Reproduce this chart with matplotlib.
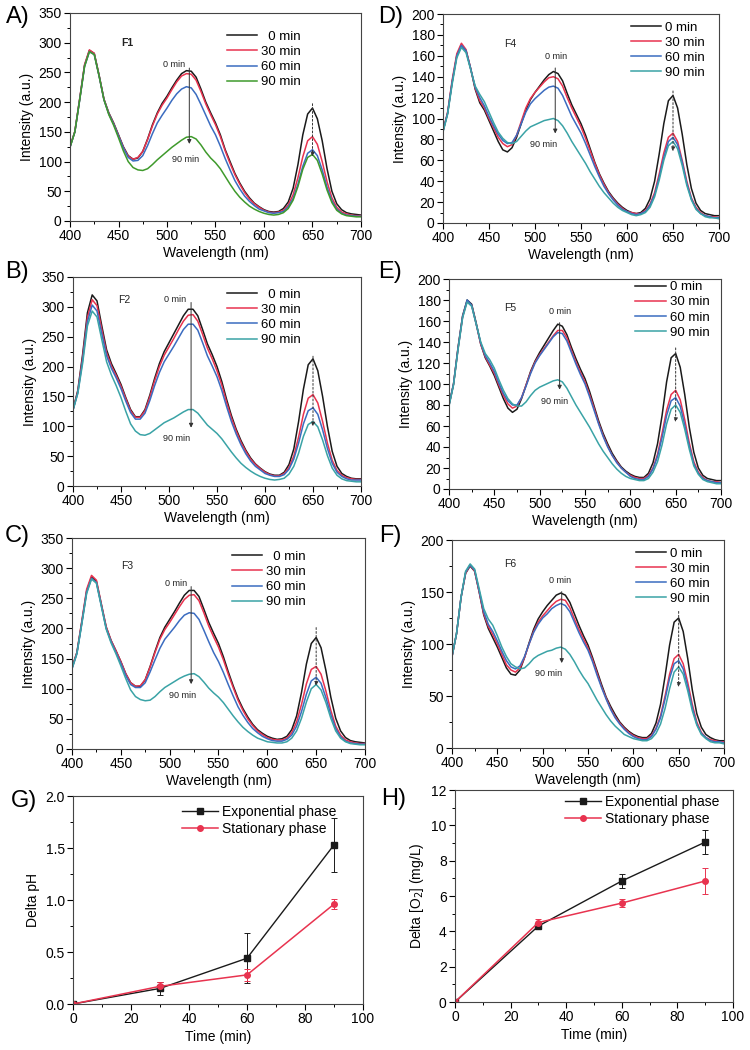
import numpy as np
import matplotlib.pyplot as plt
from matplotlib.ticker import MultipleLocator

plt.rcParams['font.family'] = ['Liberation Sans', 'DejaVu Sans']

# wavelength grid of the spectra (nm)
wl = np.arange(400, 701, 5)

# F1 spectra (panel A)
F1_0 = [125, 150, 205, 262, 287, 282, 245, 205, 182, 165, 145, 125, 110, 104, 106, 117, 138, 162, 182, 198, 210, 224, 237, 248, 253, 252, 242, 222, 200, 182, 165, 145, 120, 100, 80, 64, 50, 39, 30, 24, 19, 16, 15, 16, 21, 32, 55, 95, 145, 180, 190, 172, 135, 88, 50, 29, 19, 14, 12, 11, 10]
F1_30 = [125, 151, 206, 263, 288, 282, 245, 205, 181, 164, 144, 124, 109, 104, 107, 117, 137, 160, 180, 195, 207, 221, 234, 244, 248, 247, 237, 218, 197, 179, 162, 142, 118, 97, 78, 62, 48, 37, 29, 23, 18, 15, 14, 15, 18, 27, 44, 73, 108, 135, 142, 129, 100, 66, 39, 23, 15, 12, 10, 9, 9]
F1_60 = [124, 150, 204, 260, 285, 280, 244, 204, 180, 163, 143, 123, 107, 101, 102, 110, 127, 147, 165, 178, 190, 203, 214, 222, 226, 224, 213, 196, 178, 160, 145, 126, 105, 86, 68, 54, 42, 33, 26, 20, 17, 14, 13, 14, 16, 24, 38, 62, 92, 114, 120, 110, 86, 57, 34, 20, 13, 10, 9, 8, 8]
F1_90 = [124, 150, 204, 260, 285, 280, 244, 204, 179, 161, 140, 118, 100, 90, 86, 85, 88, 95, 103, 110, 117, 124, 130, 136, 141, 142, 138, 128, 116, 106, 98, 88, 75, 62, 50, 40, 32, 25, 20, 16, 13, 11, 10, 11, 14, 21, 35, 58, 87, 107, 112, 102, 79, 52, 31, 18, 12, 9, 8, 7, 7]

# F2 spectra (panel B)
F2_0 = [128, 160, 220, 290, 320, 310, 268, 228, 205, 188, 170, 148, 128, 116, 116, 128, 152, 180, 205, 225, 240, 255, 270, 285, 296, 296, 285, 262, 238, 220, 200, 175, 145, 118, 95, 76, 60, 47, 37, 30, 24, 20, 18, 18, 23, 36, 62, 108, 162, 203, 213, 193, 150, 100, 58, 33, 21, 16, 13, 12, 12]
F2_30 = [128, 158, 215, 282, 312, 302, 262, 223, 201, 185, 167, 146, 126, 115, 115, 126, 149, 176, 200, 219, 233, 247, 262, 276, 286, 287, 276, 254, 231, 213, 193, 169, 140, 114, 92, 73, 58, 45, 36, 29, 23, 19, 17, 17, 21, 31, 50, 82, 120, 147, 153, 139, 108, 72, 43, 26, 18, 14, 12, 11, 11]
F2_60 = [127, 156, 210, 275, 303, 293, 255, 218, 197, 181, 163, 142, 123, 112, 112, 122, 143, 168, 190, 208, 221, 234, 248, 262, 271, 271, 261, 240, 218, 201, 183, 160, 133, 108, 87, 69, 54, 42, 33, 27, 21, 18, 16, 16, 19, 28, 45, 72, 104, 126, 131, 120, 94, 63, 38, 23, 16, 12, 10, 10, 10]
F2_90 = [127, 155, 205, 268, 293, 283, 245, 208, 186, 168, 148, 125, 104, 92, 86, 85, 88, 94, 100, 106, 110, 114, 119, 124, 128, 128, 122, 112, 102, 95, 88, 79, 68, 57, 47, 38, 31, 25, 20, 16, 13, 11, 10, 11, 13, 20, 33, 55, 83, 103, 108, 99, 77, 51, 30, 18, 12, 9, 8, 7, 7]

# F3 spectra (panel C)
F3_0 = [135, 160, 210, 262, 285, 278, 240, 202, 180, 163, 145, 125, 110, 104, 104, 115, 137, 162, 185, 202, 215, 228, 242, 255, 263, 263, 253, 232, 210, 192, 175, 153, 128, 105, 84, 67, 53, 41, 32, 26, 21, 18, 16, 17, 21, 32, 55, 94, 141, 175, 185, 168, 130, 86, 51, 30, 19, 14, 12, 11, 10]
F3_30 = [135, 160, 212, 265, 288, 280, 241, 203, 180, 163, 145, 125, 110, 104, 105, 115, 136, 160, 182, 198, 210, 223, 236, 248, 255, 256, 246, 226, 204, 186, 169, 148, 124, 102, 81, 64, 50, 39, 30, 24, 19, 16, 15, 15, 18, 27, 45, 74, 108, 132, 137, 124, 96, 64, 38, 23, 15, 12, 10, 9, 9]
F3_60 = [133, 158, 208, 260, 283, 276, 238, 200, 178, 160, 142, 122, 107, 102, 102, 110, 128, 148, 167, 182, 192, 202, 213, 222, 226, 225, 215, 197, 178, 160, 145, 127, 107, 88, 70, 56, 44, 34, 27, 21, 17, 14, 13, 13, 16, 23, 38, 62, 91, 113, 119, 109, 85, 57, 34, 20, 13, 10, 9, 8, 8]
F3_90 = [133, 158, 207, 258, 282, 275, 237, 199, 176, 158, 138, 117, 98, 87, 82, 80, 81, 87, 95, 102, 107, 112, 117, 121, 124, 125, 120, 111, 101, 93, 86, 77, 66, 55, 45, 36, 29, 23, 18, 15, 12, 11, 10, 10, 12, 18, 30, 51, 78, 100, 107, 98, 77, 51, 30, 18, 12, 9, 8, 7, 7]

# F4 spectra (panel D)
F4_0 = [88, 105, 135, 160, 170, 165, 148, 128, 115, 108, 98, 88, 78, 70, 68, 72, 82, 95, 108, 118, 125, 131, 137, 142, 145, 143, 136, 124, 113, 104, 95, 84, 71, 58, 47, 38, 30, 24, 19, 15, 12, 10, 9, 10, 14, 23, 40, 66, 95, 117, 122, 110, 85, 56, 33, 19, 12, 9, 8, 7, 7]
F4_30 = [88, 106, 137, 162, 172, 166, 148, 129, 117, 110, 100, 91, 82, 76, 73, 75, 84, 97, 110, 119, 125, 130, 135, 139, 140, 138, 131, 120, 110, 101, 92, 81, 69, 57, 46, 37, 29, 23, 18, 14, 11, 10, 9, 9, 12, 18, 29, 47, 67, 82, 86, 78, 60, 40, 24, 15, 10, 7, 6, 6, 5]
F4_60 = [88, 105, 135, 160, 170, 165, 148, 130, 120, 112, 102, 93, 85, 79, 76, 77, 84, 95, 106, 114, 119, 123, 127, 130, 131, 129, 122, 112, 102, 94, 86, 76, 65, 54, 44, 35, 28, 22, 17, 13, 11, 9, 8, 9, 11, 17, 27, 44, 63, 78, 82, 75, 58, 38, 23, 14, 9, 7, 6, 5, 5]
F4_90 = [87, 104, 133, 158, 168, 163, 147, 131, 123, 116, 106, 96, 87, 81, 77, 76, 78, 83, 88, 92, 94, 96, 98, 99, 100, 98, 93, 86, 78, 71, 64, 57, 49, 42, 35, 29, 24, 19, 15, 12, 10, 8, 7, 8, 10, 15, 25, 41, 60, 74, 78, 71, 55, 36, 22, 13, 9, 6, 5, 5, 4]

# F5 spectra (panel E)
F5_0 = [80, 100, 135, 165, 180, 176, 158, 138, 125, 117, 108, 97, 86, 77, 73, 76, 86, 99, 112, 122, 130, 137, 144, 151, 157, 155, 147, 135, 124, 114, 105, 93, 79, 65, 53, 43, 34, 27, 21, 17, 14, 12, 11, 11, 15, 25, 43, 70, 102, 125, 129, 116, 90, 59, 35, 20, 13, 10, 9, 8, 8]
F5_30 = [80, 100, 134, 164, 179, 175, 157, 138, 126, 118, 110, 99, 89, 81, 77, 79, 87, 99, 111, 121, 128, 134, 140, 146, 151, 151, 144, 132, 121, 111, 102, 90, 77, 63, 51, 41, 32, 26, 20, 16, 13, 11, 10, 10, 13, 20, 33, 53, 75, 90, 94, 85, 66, 44, 26, 16, 11, 8, 7, 7, 6]
F5_60 = [80, 100, 134, 164, 180, 175, 157, 139, 127, 120, 112, 101, 91, 84, 80, 80, 87, 98, 110, 120, 127, 133, 139, 145, 149, 148, 141, 130, 119, 109, 100, 88, 75, 62, 50, 40, 32, 25, 20, 16, 12, 10, 9, 9, 12, 19, 31, 49, 70, 84, 87, 79, 61, 41, 24, 15, 10, 8, 7, 6, 6]
F5_90 = [79, 99, 133, 163, 178, 174, 157, 140, 129, 123, 115, 104, 94, 86, 81, 79, 79, 83, 89, 94, 97, 99, 101, 103, 104, 102, 96, 88, 80, 73, 66, 59, 51, 43, 36, 30, 24, 19, 15, 12, 10, 9, 8, 8, 10, 16, 26, 42, 62, 76, 80, 73, 57, 38, 22, 14, 9, 7, 6, 5, 5]

# F6 spectra (panel F)
F6_0 = [88, 110, 145, 168, 175, 170, 150, 128, 115, 106, 97, 87, 77, 71, 70, 75, 87, 101, 114, 124, 131, 137, 142, 147, 149, 147, 140, 129, 118, 108, 99, 87, 74, 61, 49, 40, 32, 25, 20, 16, 13, 11, 10, 10, 14, 24, 42, 69, 99, 121, 125, 112, 86, 56, 33, 20, 13, 10, 8, 7, 7]
F6_30 = [88, 110, 145, 168, 176, 170, 150, 129, 117, 109, 100, 90, 80, 75, 73, 77, 87, 100, 112, 121, 127, 132, 137, 141, 143, 142, 135, 124, 114, 105, 96, 85, 72, 59, 48, 38, 30, 24, 19, 15, 12, 10, 9, 9, 12, 19, 31, 50, 71, 86, 90, 81, 63, 42, 25, 15, 10, 8, 7, 6, 6]
F6_60 = [88, 110, 145, 169, 176, 171, 151, 131, 119, 112, 103, 93, 84, 78, 76, 79, 88, 100, 111, 119, 125, 129, 134, 137, 139, 137, 131, 121, 111, 102, 94, 83, 70, 58, 47, 37, 29, 23, 18, 14, 11, 9, 8, 8, 11, 18, 29, 47, 67, 81, 84, 76, 59, 39, 23, 14, 10, 7, 6, 6, 5]
F6_90 = [88, 110, 145, 170, 177, 172, 153, 134, 124, 118, 108, 97, 88, 81, 78, 76, 77, 81, 86, 89, 91, 93, 94, 96, 97, 95, 90, 83, 75, 68, 62, 54, 46, 39, 32, 26, 21, 17, 13, 11, 9, 8, 7, 7, 9, 14, 23, 38, 57, 73, 78, 71, 55, 36, 22, 13, 9, 6, 5, 5, 4]

# left column pads "0 min" so it lines up right; right column does not
labels_left = ['  0 min', '30 min', '60 min', '90 min']
labels_right = ['0 min', '30 min', '60 min', '90 min']

# panels G and H
t = [0, 30, 60, 90]
ph_exp = [0.0, 0.15, 0.44, 1.53]
ph_exp_err = [0.0, 0.06, 0.24, 0.26]
ph_sta = [0.0, 0.17, 0.28, 0.96]
ph_sta_err = [0.0, 0.04, 0.06, 0.05]
o2_exp = [0.0, 4.3, 6.85, 9.05]
o2_exp_err = [0.0, 0.1, 0.4, 0.7]
o2_sta = [0.0, 4.5, 5.6, 6.85]
o2_sta_err = [0.0, 0.2, 0.25, 0.75]

BLACK = '#1a1a1a'
RED = '#e8334f'
BLUE = '#3b6cc0'
TEAL = '#3aa3a6'
GREEN = '#3f9a2c'

fig = plt.figure(figsize=(7.5, 10.5), dpi=100)


def px_axes(x0, x1, y0, y1):
    return fig.add_axes([x0 / 750, 1 - y1 / 1050, (x1 - x0) / 750, (y1 - y0) / 1050])


def style(ax, xmaj, xmin, ymaj, ymin):
    ax.xaxis.set_major_locator(MultipleLocator(xmaj))
    ax.xaxis.set_minor_locator(MultipleLocator(xmin))
    ax.yaxis.set_major_locator(MultipleLocator(ymaj))
    ax.yaxis.set_minor_locator(MultipleLocator(ymin))
    ax.tick_params(which='both', direction='out', top=False, right=False, labelsize=10, pad=2)
    ax.tick_params(which='major', length=4, width=0.8)
    ax.tick_params(which='minor', length=2, width=0.7)
    for s in ax.spines.values():
        s.set_linewidth(0.8)
        s.set_color('#444444')


panels = [
    dict(rect=(70, 361, 13, 221), curves=[F1_0, F1_30, F1_60, F1_90], last=GREEN, ymax=350, ymaj=50,
         name='F1', bold=True, name_xy=(459, 300), leg=(0.54, 0.915), labels=labels_left,
         t0=(507, 263), arr=(523, 262, 125), t90=(519, 104), dot=(650, 202, 104), letter='A)', lxy=(6, 6)),
    dict(rect=(73, 361, 277, 486), curves=[F2_0, F2_30, F2_60, F2_90], last=TEAL, ymax=350, ymaj=50,
         name='F2', bold=False, name_xy=(453, 312), leg=(0.535, 0.945), labels=labels_left,
         t0=(506, 313), arr=(523, 312, 93), t90=(508, 80), dot=(650, 222, 95), letter='B)', lxy=(5, 261)),
    dict(rect=(72, 365, 538, 749), curves=[F3_0, F3_30, F3_60, F3_90], last=TEAL, ymax=350, ymaj=50,
         name='F3', bold=False, name_xy=(456, 303), leg=(0.545, 0.94), labels=labels_left,
         t0=(507, 274), arr=(522, 274, 103), t90=(513, 89), dot=(650, 206, 100), letter='C)', lxy=(5, 525)),
    dict(rect=(443, 719, 14, 223), curves=[F4_0, F4_30, F4_60, F4_90], last=TEAL, ymax=200, ymaj=20,
         name='F4', bold=False, name_xy=(473, 171), leg=(0.68, 0.965), labels=labels_right,
         t0=(523, 159), arr=(522, 151, 83), t90=(509, 75), dot=(650, 129, 66), letter='D)', lxy=(378, 6)),
    dict(rect=(449, 721, 279, 489), curves=[F5_0, F5_30, F5_60, F5_90], last=TEAL, ymax=200, ymaj=20,
         name='F5', bold=False, name_xy=(468, 172), leg=(0.685, 0.99), labels=labels_right,
         t0=(522, 169), arr=(522, 161, 92), t90=(516, 83), dot=(650, 137, 61), letter='E)', lxy=(378, 261)),
    dict(rect=(452, 724, 540, 748), curves=[F6_0, F6_30, F6_60, F6_90], last=TEAL, ymax=200, ymaj=50,
         name='F6', bold=False, name_xy=(464, 177), leg=(0.675, 0.965), labels=labels_right,
         t0=(519, 161), arr=(521, 153, 79), t90=(506, 72), dot=(650, 134, 56), letter='F)', lxy=(379, 525)),
]

for p in panels:
    ax = px_axes(*p['rect'])
    colors = [BLACK, RED, BLUE, p['last']]
    for y, c, lab in zip(p['curves'], colors, p['labels']):
        ax.plot(wl, y, color=c, lw=1.1, label=lab)
    ax.set_xlim(400, 700)
    ax.set_ylim(0, p['ymax'])
    style(ax, 50, 25, p['ymaj'], p['ymaj'] / 2)
    ax.set_xlabel('Wavelength (nm)', fontsize=10, labelpad=2)
    ax.set_ylabel('Intensity (a.u.)', fontsize=10, labelpad=3)
    ax.text(*p['name_xy'], p['name'], fontsize=7.5, fontweight='bold' if p['bold'] else 'normal',
            ha='center', va='center', color='#222222')
    ax.text(*p['t0'], '0 min', fontsize=6.5, ha='center', va='center', color='#222222')
    ax.text(*p['t90'], '90 min', fontsize=6.5, ha='center', va='center', color='#222222')
    a_x, a_top, a_bot = p['arr']
    ax.annotate('', xy=(a_x, a_bot), xytext=(a_x, a_top),
                arrowprops=dict(arrowstyle='-|>', color='#333333', lw=0.7, mutation_scale=6))
    d_x, d_top, d_bot = p['dot']
    ax.annotate('', xy=(d_x, d_bot), xytext=(d_x, d_top),
                arrowprops=dict(arrowstyle='-|>', color='#333333', lw=0.7, ls=(0, (2, 2)), mutation_scale=6))
    ax.legend(loc='upper left', bbox_to_anchor=p['leg'], frameon=False, fontsize=9.5,
              handlelength=2.3, handletextpad=0.3, labelspacing=0.22, borderpad=0, borderaxespad=0)
    fig.text(p['lxy'][0] / 750, 1 - p['lxy'][1] / 1050, p['letter'], fontsize=17, va='top', ha='left')


def phase_panel(ax, y1, e1, y2, e2):
    ax.errorbar(t, y1, yerr=e1, fmt='none', ecolor=BLACK, elinewidth=0.7, capsize=2.5, capthick=0.7)
    ax.errorbar(t, y2, yerr=e2, fmt='none', ecolor=RED, elinewidth=0.7, capsize=2.5, capthick=0.7)
    ax.plot(t, y1, color=BLACK, marker='s', ms=4, lw=1, label='Exponential phase')
    ax.plot(t, y2, color=RED, marker='o', ms=4, lw=1.1, label='Stationary phase')
    ax.set_xlim(0, 100)
    ax.set_xlabel('Time (min)', fontsize=10, labelpad=3)


# panel G
axg = px_axes(73, 363, 796, 1004)
phase_panel(axg, ph_exp, ph_exp_err, ph_sta, ph_sta_err)
axg.set_ylim(0, 2.0)
style(axg, 20, 10, 0.5, 0.25)
axg.yaxis.set_major_formatter(plt.FormatStrFormatter('%.1f'))
axg.set_ylabel('Delta pH', fontsize=10, labelpad=4)
axg.legend(loc='upper left', bbox_to_anchor=(0.375, 0.955), frameon=False, fontsize=10,
           handlelength=2.6, handletextpad=0.3, labelspacing=0.2, borderpad=0, borderaxespad=0)
fig.text(11 / 750, 1 - 790 / 1050, 'G)', fontsize=17, va='top', ha='left')

# panel H
axh = px_axes(455, 733, 790, 1002)
phase_panel(axh, o2_exp, o2_exp_err, o2_sta, o2_sta_err)
axh.set_ylim(0, 12)
style(axh, 20, 10, 2, 1)
axh.set_ylabel('Delta [O$_2$] (mg/L)', fontsize=10, labelpad=4)
axh.legend(loc='upper left', bbox_to_anchor=(0.395, 0.975), frameon=False, fontsize=10,
           handlelength=2.6, handletextpad=0.3, labelspacing=0.2, borderpad=0, borderaxespad=0)
fig.text(381 / 750, 1 - 788 / 1050, 'H)', fontsize=17, va='top', ha='left')

fig.savefig('out.png', dpi=100)
